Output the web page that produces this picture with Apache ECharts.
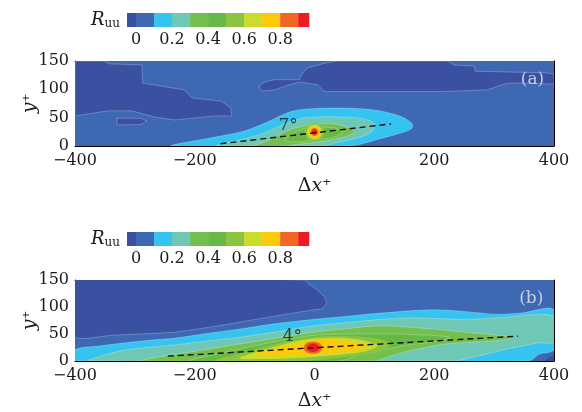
<!DOCTYPE html>
<html><head><meta charset="utf-8">
<script src="https://cdn.jsdelivr.net/npm/echarts@6/dist/echarts.min.js"></script>
<style>html,body{margin:0;padding:0;background:#fff}#c{width:582px;height:412px}</style>
</head><body><div id="c"></div>
<script>
// ---- colour levels of R_uu ----
const levelEdges = [-0.05, 0, 0.1, 0.2, 0.3, 0.4, 0.5, 0.6, 0.7, 0.8, 0.9, 0.96];
const levelColors = ['#3a51a1','#3e68b2','#35c3ef','#6fc8b6','#74bf4e','#67b946','#8cc43f','#cbdc2a','#fdc90b','#f26624','#ec1c24'];
const colorbarTicks = [0, 0.2, 0.4, 0.6, 0.8];

// ---- panel (a): contour regions, points are [Δx+, y+] ----
const a_full = [[-400,0],[400,0],[400,150],[-400,150]];
const a_neg_left = [[-400,150],[-352,150],[-342,145],[-288,143],[-287,111],[-217,99],[-205,85],[-155,79],[-140,67],[-138,53],[-167,53],[-233,46],[-267,51],[-305,62],[-345,62],[-400,53]];
const a_neg_patch = [[-330,49],[-290,49],[-280,44],[-290,38],[-330,37]];
const a_neg_right = [[38,150],[222,150],[233,143],[267,141],[268,132],[388,129],[400,127],[400,109],[350,111],[322,111],[288,99],[212,96],[17,96],[5,108],[-25,113],[-42,108],[-67,99],[-88,97],[-93,106],[-83,113],[-67,117],[-25,117],[-22,125],[-12,138],[17,146]];
const a_c2 = [[-238,0],[-175,14],[-117,26.5],[-75,44],[-42,60],[-17,65],[42,67],[100,63.5],[142,53],[162,40.6],[163,31.8],[150,24.7],[108,12.4],[58,0]];
const a_c3 = [[-163,0],[-125,10.6],[-88,21.2],[-50,38.8],[-17,49.4],[45,51.2],[83,47.6],[100,38.8],[95,24.7],[72,14.1],[33,5.3],[17,0]];
const a_c4 = [[-100,0],[-75,10.6],[-50,24.7],[-25,33.5],[5,38.8],[33,38.8],[58,31.8],[67,24.7],[50,15.9],[17,8.8],[-25,3.5],[-50,0]];
const a_c5 = [[-50,10.6],[-28,26.5],[0,33.5],[33,31.8],[47,24.7],[33,15.9],[0,10.6],[-33,7.1]];
const a_c6 = [[-17,24.7],[0,40.7],[17,24.7],[0,8.7]];
const a_c7 = [[-12.5,24.7],[0,37.7],[12.5,24.7],[0,11.7]];
const a_c8 = [[-9,24.7],[0,34.2],[9,24.7],[0,15.2]];
const a_c9 = [[-6.5,24.7],[0,31.7],[6.5,24.7],[0,17.7]];
const a_c10 = [[-4.5,24.7],[0,29.5],[4.5,24.7],[0,19.9]];
const a_dash = [[-157,4],[128,39]];
const a_angle = [-44, 36];
const a_tag = [364, 117];

// ---- panel (b) ----
const b_full = [[-400,0],[400,0],[400,150],[-400,150]];
const b_neg = [[-400,150],[-17,150],[-10,143],[0,136],[17,118],[20,106],[12,97],[0,95],[-67,83],[-162,65],[-233,53.5],[-339,47.6],[-400,44.6]];
const b_neg_corner = [[383,0],[400,12],[400,0]];
const b_c2 = [[-400,0],[-400,21],[-358,28],[-289,37],[-233,42.4],[-178,51.2],[-125,59.1],[-67,68.8],[0,77.1],[55,82.9],[111,88.8],[195,94.8],[250,91.8],[305,86.5],[345,88.8],[400,94.8],[400,21.2],[375,12.4],[358,0]];
const b_c3 = [[-378,0],[-358,8.8],[-317,20.3],[-275,25.6],[-233,30],[-178,37.1],[-122,44.6],[-67,53.5],[0,65.3],[55,71.1],[111,77.1],[167,79.9],[250,77.1],[305,79.9],[400,82.9],[400,35.3],[375,33.5],[325,22.9],[292,14.1],[258,5.3],[233,0]];
const b_c4 = [[-289,0],[-258,7.9],[-233,12.4],[-192,19.4],[-150,27],[-108,34.4],[-67,41.8],[0,53.5],[55,60],[111,65.3],[195,59.5],[250,53.5],[305,47.6],[333,44.1],[305,37.9],[222,31.8],[175,22.9],[142,14.1],[117,5.3],[100,0]];
const b_c5 = [[-208,0],[-158,14.1],[-100,28.2],[-42,40.6],[0,47.6],[75,50.3],[158,49.4],[225,44.1],[208,37.1],[158,30],[117,21.2],[75,12.4],[42,0]];
const b_c6 = [[-167,0],[-125,14.1],[-83,26.5],[-42,37.1],[0,45],[58,45.9],[108,40.6],[128,30],[108,17.6],[50,7.1],[-25,0]];
const b_c7 = [[-125,5.3],[-88,19.4],[-42,33.5],[0,41.5],[50,42.4],[88,36.2],[105,28.2],[83,17.6],[33,10.6],[-25,6.2],[-83,3.5]];
const b_c8 = [[-100,12.4],[-67,22.9],[-33,31.8],[0,37.9],[42,37.9],[75,32.6],[88,26.5],[67,19.4],[25,14.1],[-25,10.6],[-75,8.8]];
const b_c9 = [[-18,24.7],[-2.5,36.2],[13,24.7],[-2.5,13.2]];
const b_c10 = [[-13,24.7],[-2.5,32.6],[8,24.7],[-2.5,16.8]];
const b_dash = [[-245,9],[340,46]];
const b_angle = [-37, 45];
const b_tag = [362, 115];

// ---- layer specs (level index + drawing style) ----
const layersA = [
  {pts:a_full, lv:1, sm:0, edge:false},
  {pts:a_neg_left, lv:0, sm:0, edge:true},
  {pts:a_neg_patch, lv:0, sm:0, edge:true},
  {pts:a_neg_right, lv:0, sm:0, edge:true},
  {pts:a_c2, lv:2, sm:0.3, edge:true},
  {pts:a_c3, lv:3, sm:0.3, edge:true},
  {pts:a_c4, lv:4, sm:0.3, edge:true},
  {pts:a_c5, lv:5, sm:0.3, edge:true},
  {pts:a_c6, lv:6, sm:0.55, edge:false},
  {pts:a_c7, lv:7, sm:0.55, edge:false},
  {pts:a_c8, lv:8, sm:0.55, edge:false},
  {pts:a_c9, lv:9, sm:0.55, edge:false},
  {pts:a_c10, lv:10, sm:0.55, edge:false}
];
const layersB = [
  {pts:b_full, lv:1, sm:0, edge:false},
  {pts:b_neg, lv:0, sm:0.2, edge:true},
  {pts:b_neg_corner, lv:0, sm:0, edge:false},
  {pts:b_c2, lv:2, sm:0.3, edge:true},
  {pts:b_c3, lv:3, sm:0.3, edge:true},
  {pts:b_c4, lv:4, sm:0.3, edge:true},
  {pts:b_c5, lv:5, sm:0.3, edge:true},
  {pts:b_c6, lv:6, sm:0.35, edge:false},
  {pts:b_c7, lv:7, sm:0.35, edge:false},
  {pts:b_c8, lv:8, sm:0.35, edge:false},
  {pts:b_c9, lv:9, sm:0.55, edge:false},
  {pts:b_c10, lv:10, sm:0.55, edge:false}
];

const FONT = "'DejaVu Serif', 'Liberation Serif', serif";
const TXT = '#1a1a1a';

function contourSeries(layers, xi, yi) {
  return {
    type:'custom', xAxisIndex:xi, yAxisIndex:yi, clip:true, silent:true,
    data: layers.map((L,i)=>[L.pts[0][0], L.pts[0][1], i]),
    renderItem: function(params, api){
      const L = layers[api.value(2)];
      const pts = L.pts.map(p=>api.coord(p));
      return {type:'polygon', shape:{points:pts, smooth:L.sm},
        style:{fill:levelColors[L.lv], stroke: L.edge ? 'rgba(255,255,255,0.35)' : null, lineWidth:0.7}};
    }
  };
}
function colorbarSeries(xi, yi) {
  return {
    type:'custom', xAxisIndex:xi, yAxisIndex:yi, silent:true,
    data: levelColors.map((c,i)=>[levelEdges[i], 0, i]),
    renderItem: function(params, api){
      const i = api.value(2);
      const p0 = api.coord([levelEdges[i], 0]);
      const p1 = api.coord([levelEdges[i+1], 1]);
      return {type:'rect', shape:{x:p0[0], y:p1[1], width:p1[0]-p0[0]+0.3, height:p0[1]-p1[1]},
        style:{fill:levelColors[i]}};
    }
  };
}
function dashSeries(d, xi, yi) {
  return {type:'line', xAxisIndex:xi, yAxisIndex:yi, data:d, symbol:'none', silent:true, z:5,
    lineStyle:{color:'#111', width:1.4, type:[6,4]}};
}
function textSeries(pos, txt, color, size, xi, yi) {
  return {type:'scatter', xAxisIndex:xi, yAxisIndex:yi, data:[pos], symbolSize:1, silent:true, z:6,
    itemStyle:{color:'rgba(0,0,0,0)'},
    label:{show:true, position:'inside', formatter:txt, color:color, fontSize:size, fontFamily:FONT}};
}

const fmtX = v => v < 0 ? '\u2212' + (-v) : String(v);
const fmtCb = v => v === 0 ? '0' : v.toFixed(1);
const line = {show:true, onZero:false, lineStyle:{color:'#000', width:1}};

function cbAxes(gi) {
  return {
    x: {type:'value', gridIndex:gi, min:levelEdges[0], max:levelEdges[levelEdges.length-1],
        axisLine:{show:false}, axisTick:{show:false}, splitLine:{show:false},
        axisLabel:{show:true, customValues:colorbarTicks, formatter:fmtCb, margin:5, fontSize:16, fontFamily:FONT, color:TXT}},
    y: {type:'value', gridIndex:gi, min:0, max:1, axisLine:{show:false}, axisTick:{show:false},
        axisLabel:{show:false}, splitLine:{show:false},
        name:'{r|R}{s|uu}', nameLocation:'middle', nameRotate:0, nameGap:7, nameMoveOverlap:false,
        nameTextStyle:{rich:{
          r:{fontSize:18, fontStyle:'italic', fontFamily:FONT, color:TXT, verticalAlign:'middle'},
          s:{fontSize:12, fontFamily:FONT, color:TXT, verticalAlign:'bottom', padding:[8,0,0,0]}}}}
  };
}
function mainAxes(gi) {
  return {
    xb: {type:'value', gridIndex:gi, min:-400, max:400, interval:200, axisLine:line,
        axisTick:{show:true, inside:true, length:6, lineStyle:{color:'#000'}},
        minorTick:{show:true, splitNumber:4, length:4, lineStyle:{color:'#000'}},
        splitLine:{show:false}, minorSplitLine:{show:false},
        axisLabel:{formatter:fmtX, margin:7, fontSize:16, fontFamily:FONT, color:TXT},
        name:'{d|\u0394}{i|x}{p|\u207A}', nameLocation:'middle', nameGap:31, nameMoveOverlap:false,
        nameTextStyle:{rich:{
          d:{fontSize:19, fontFamily:FONT, color:TXT},
          i:{fontSize:19, fontStyle:'italic', fontFamily:FONT, color:TXT},
          p:{fontSize:17, fontFamily:FONT, color:TXT}}}},
    xt: {type:'value', gridIndex:gi, position:'top', min:-400, max:400, axisLine:line,
        axisTick:{show:false}, axisLabel:{show:false}, splitLine:{show:false}},
    yl: {type:'value', gridIndex:gi, min:0, max:150, interval:50, axisLine:line,
        axisTick:{show:true, inside:true, length:6, lineStyle:{color:'#000'}},
        minorTick:{show:true, splitNumber:5, length:3.5, lineStyle:{color:'#000'}},
        splitLine:{show:false}, minorSplitLine:{show:false},
        axisLabel:{margin:6, fontSize:16, fontFamily:FONT, color:TXT},
        name:'{i|y}{p|\u207A}', nameLocation:'middle', nameRotate:90, nameGap:35, nameMoveOverlap:false,
        nameTextStyle:{rich:{
          i:{fontSize:19, fontStyle:'italic', fontFamily:FONT, color:TXT},
          p:{fontSize:17, fontFamily:FONT, color:TXT}}}},
    yr: {type:'value', gridIndex:gi, position:'right', min:0, max:150, axisLine:line,
        axisTick:{show:false}, axisLabel:{show:false}, splitLine:{show:false}}
  };
}

const cbA = cbAxes(0), mA = mainAxes(1), cbB = cbAxes(2), mB = mainAxes(3);

const option = {
  animation:false,
  backgroundColor:'#fff',
  grid:[
    {left:127, top:13, width:182, height:14},
    {left:75, top:61, width:479, height:85},
    {left:127, top:232, width:182, height:14},
    {left:75, top:280, width:479, height:85}
  ],
  xAxis:[cbA.x, mA.xb, mA.xt, cbB.x, mB.xb, mB.xt],
  yAxis:[cbA.y, mA.yl, mA.yr, cbB.y, mB.yl, mB.yr],
  series:[
    colorbarSeries(0,0),
    contourSeries(layersA,1,1),
    dashSeries(a_dash,1,1),
    textSeries(a_angle,'7°',TXT,17,1,1),
    textSeries(a_tag,'(a)','#e4e8f2',17,1,1),
    colorbarSeries(3,3),
    contourSeries(layersB,4,4),
    dashSeries(b_dash,4,4),
    textSeries(b_angle,'4°',TXT,17,4,4),
    textSeries(b_tag,'(b)','#e4e8f2',17,4,4)
  ]
};
echarts.init(document.getElementById('c'), null, {renderer:'canvas'}).setOption(option);
</script>
</body></html>
